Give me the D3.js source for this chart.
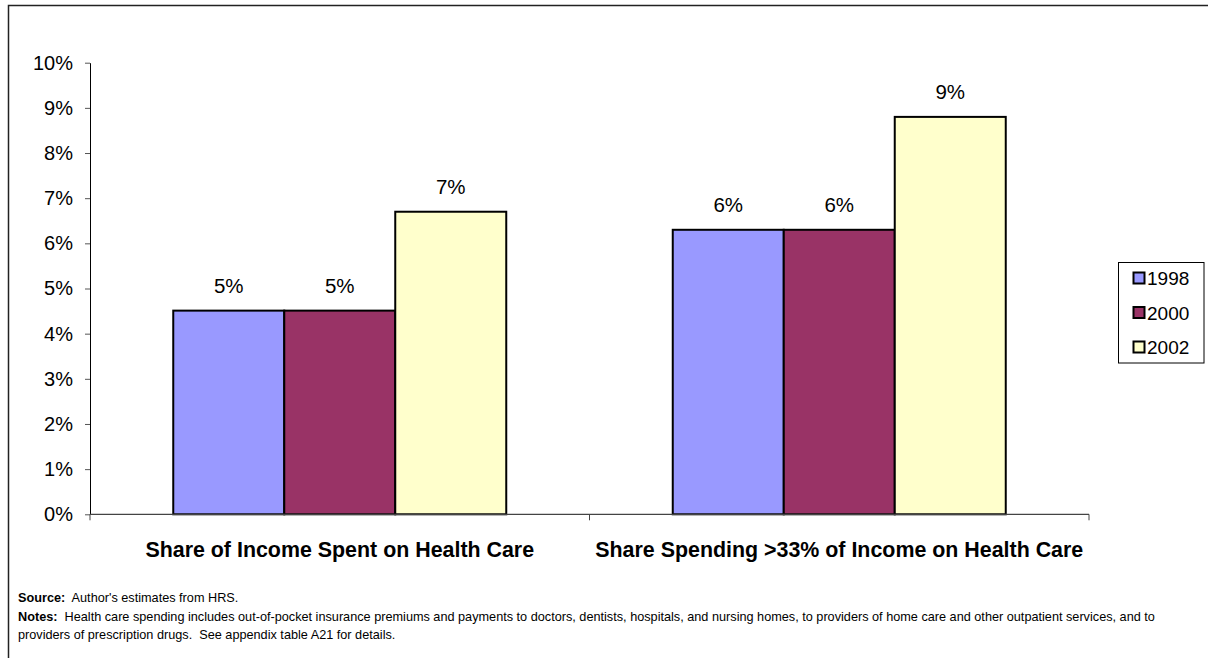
<!DOCTYPE html>
<html>
<head>
<meta charset="utf-8">
<script src="https://cdn.jsdelivr.net/npm/d3@7"></script>
<style>
  html, body { margin: 0; padding: 0; background: #fff; }
  svg { display: block; font-family: "Liberation Sans", Arial, sans-serif; }
</style>
</head>
<body>
<svg id="chart" width="1208" height="658"></svg>
<script>
// Health care spending measures by survey year
const categories = ["Share of Income Spent on Health Care", "Share Spending >33% of Income on Health Care"];
const years = ["1998", "2000", "2002"];
const values1998 = [0.0451, 0.063];
const values2000 = [0.0451, 0.063];
const values2002 = [0.067, 0.088];
const yTicks = [0, 0.01, 0.02, 0.03, 0.04, 0.05, 0.06, 0.07, 0.08, 0.09, 0.10];
const colors = ["#9999FF", "#993366", "#FFFFCC"];

const seriesValues = [values1998, values2000, values2002];

const svg = d3.select("#chart");

// outer frame
svg.append("rect")
  .attr("x", 8.5).attr("y", 5.5)
  .attr("width", 1220).attr("height", 670)
  .attr("fill", "none").attr("stroke", "#222").attr("stroke-width", 1.5);

const plot = { left: 90, right: 1089, top: 62.7, bottom: 514.3 };

const y = d3.scaleLinear().domain([0, 0.10]).range([plot.bottom, plot.top]);
const x0 = d3.scaleBand().domain(categories).range([plot.left, plot.right]).padding(0);
const x1 = d3.scaleBand().domain(years)
  .range([x0.bandwidth() / 6, x0.bandwidth() * 5 / 6]).padding(0);
const color = d3.scaleOrdinal().domain(years).range(colors);

// bars
const groups = svg.append("g").selectAll("g")
  .data(categories)
  .join("g")
  .attr("transform", d => `translate(${x0(d)},0)`);

groups.selectAll("rect")
  .data((c, i) => years.map((yr, j) => ({ year: yr, value: seriesValues[j][i] })))
  .join("rect")
  .attr("x", d => x1(d.year))
  .attr("y", d => y(d.value))
  .attr("width", x1.bandwidth())
  .attr("height", d => y(0) - y(d.value))
  .attr("fill", d => color(d.year))
  .attr("stroke", "#000")
  .attr("stroke-width", 2);

// value labels
const fmt = d3.format(".0%");
groups.selectAll("text.val")
  .data((c, i) => years.map((yr, j) => ({ year: yr, value: seriesValues[j][i] })))
  .join("text")
  .attr("class", "val")
  .attr("x", d => x1(d.year) + x1.bandwidth() / 2)
  .attr("y", d => y(d.value) - 17.5)
  .attr("text-anchor", "middle")
  .attr("font-size", 20.5)
  .attr("fill", "#000")
  .text(d => fmt(d.value));

// y axis
const yAxis = d3.axisLeft(y)
  .tickValues(yTicks)
  .tickFormat(fmt)
  .tickSizeInner(5)
  .tickSizeOuter(0)
  .tickPadding(12);

const yg = svg.append("g")
  .attr("transform", `translate(${plot.left},0)`)
  .call(yAxis);
yg.select(".domain").attr("stroke", "#000");
yg.selectAll(".tick line").attr("stroke", "#555");
yg.selectAll(".tick text")
  .attr("font-size", 20)
  .attr("font-family", "Liberation Sans, Arial, sans-serif")
  .attr("fill", "#000");

// x axis line and category boundary ticks
const xg = svg.append("g");
xg.append("line")
  .attr("x1", plot.left).attr("x2", plot.right)
  .attr("y1", y(0)).attr("y2", y(0))
  .attr("stroke", "#444").attr("stroke-width", 1.2);
const boundaries = categories.map(c => x0(c)).concat([x0(categories[categories.length - 1]) + x0.bandwidth()]);
xg.selectAll("line.tick")
  .data(boundaries)
  .join("line")
  .attr("class", "tick")
  .attr("x1", d => d).attr("x2", d => d)
  .attr("y1", y(0)).attr("y2", y(0) + 6)
  .attr("stroke", "#444");

// category labels
xg.selectAll("text.cat")
  .data(categories)
  .join("text")
  .attr("class", "cat")
  .attr("x", d => x0(d) + x0.bandwidth() / 2)
  .attr("y", 556.5)
  .attr("text-anchor", "middle")
  .attr("font-size", 21.4)
  .attr("font-weight", "bold")
  .attr("fill", "#000")
  .text(d => d);

// legend
const legend = svg.append("g").attr("transform", "translate(1118.5,262.5)");
legend.append("rect")
  .attr("width", 85.5).attr("height", 100.5)
  .attr("fill", "#fff").attr("stroke", "#000").attr("stroke-width", 1);
const items = legend.selectAll("g.item")
  .data(years)
  .join("g")
  .attr("class", "item")
  .attr("transform", (d, i) => `translate(0,${15.5 + i * 34.5})`);
items.append("rect")
  .attr("x", 15).attr("y", -5.5)
  .attr("width", 11).attr("height", 11)
  .attr("fill", d => color(d))
  .attr("stroke", "#000").attr("stroke-width", 2);
items.append("text")
  .attr("x", 28.5).attr("y", 7)
  .attr("font-size", 19)
  .attr("fill", "#000")
  .text(d => d);

// source and notes
const notes = svg.append("g").attr("font-size", 12.7).attr("fill", "#000");
const srcLine = notes.append("text").attr("x", 18).attr("y", 601.5);
srcLine.append("tspan").attr("font-weight", "bold").text("Source:");
srcLine.append("tspan").text("\u00a0 Author's estimates from HRS.");
const noteLine = notes.append("text").attr("x", 18).attr("y", 620.5);
noteLine.append("tspan").attr("font-weight", "bold").text("Notes:");
noteLine.append("tspan").text("\u00a0 Health care spending includes out-of-pocket insurance premiums and payments to doctors, dentists, hospitals, and nursing homes, to providers of home care and other outpatient services, and to");
notes.append("text").attr("x", 18).attr("y", 638.5)
  .text("providers of prescription drugs.\u00a0 See appendix table A21 for details.");
</script>
</body>
</html>
